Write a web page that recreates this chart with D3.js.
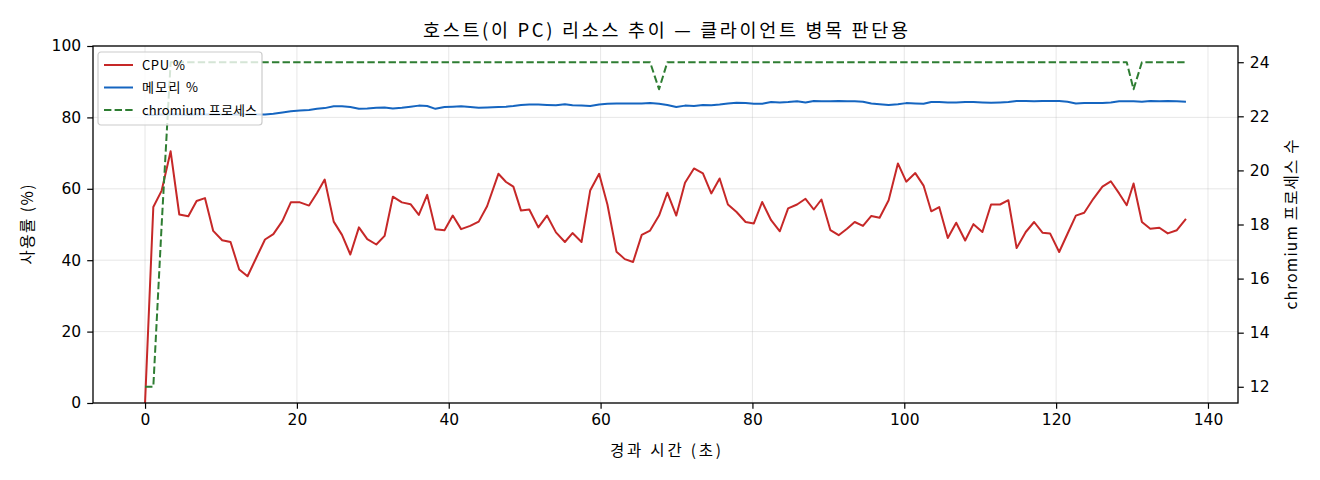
<!DOCTYPE html>
<html>
<head>
<meta charset="utf-8">
<script src="https://cdn.jsdelivr.net/npm/d3@7/dist/d3.min.js"></script>
<style>
  html, body { margin: 0; padding: 0; background: #fff; }
  svg { display: block; font-family: "Noto Sans CJK KR", "Noto Sans", "DejaVu Sans", sans-serif; }
</style>
</head>
<body>
<svg id="chart" width="1320" height="480"></svg>
<script>
// ---- data ----
const times = [0, 1.09, 2.19, 3.37, 4.51, 5.70, 6.79, 7.89, 8.98, 10.16, 11.26, 12.40, 13.50, 14.70, 15.80, 16.90, 18.10, 19.20, 20.40, 21.60, 22.65,
  23.66, 24.85, 25.94, 27.04, 28.17, 29.27, 30.46, 31.55, 32.64, 33.83, 34.97, 36.06, 37.16, 38.25, 39.44, 40.53, 41.63, 42.82, 43.95, 45.05,
  46.54, 47.55, 48.51, 49.52, 50.61, 51.80, 52.94, 54.12, 55.30, 56.30, 57.49, 58.63, 59.81, 60.90, 62.09, 63.19, 64.28, 65.42, 66.52, 67.70, 68.79,
  69.97, 71.12, 72.30, 73.48, 74.58, 75.68, 76.77, 77.91, 79.10, 80.19, 81.28, 82.46, 83.61, 84.70, 85.88, 86.99, 88.08, 89.09, 90.27, 91.36,
  92.46, 93.47, 94.56, 95.66, 96.75, 97.94, 99.16, 100.26, 101.45, 102.54, 103.55, 104.60, 105.73, 106.84, 108.02, 109.11, 110.29, 111.43, 112.62, 113.71, 114.80,
  116.0, 117.1, 118.2, 119.2, 120.4, 121.5, 122.6, 123.7, 124.9, 126.1, 127.2, 128.3, 129.3, 130.2, 131.3, 132.4, 133.6, 134.7, 135.9, 137.1];

const cpu = [0, 54.9, 59.5, 70.5, 52.8, 52.3, 56.6, 57.4, 48.2, 45.6, 45.1, 37.4, 35.5, 40.9, 45.8, 47.3, 51.0, 56.2, 56.2, 55.3, 58.8,
  62.6, 50.8, 47.1, 41.6, 49.2, 45.9, 44.4, 46.8, 57.8, 56.2, 55.7, 52.7, 58.3, 48.7, 48.4, 52.5, 48.7, 49.6, 50.8, 55.1,
  64.2, 61.9, 60.6, 53.9, 54.2, 49.2, 52.5, 47.8, 45.1, 47.6, 45.1, 59.5, 64.2, 55.6, 42.4, 40.3, 39.5, 47.1, 48.3, 52.5, 58.9,
  52.5, 61.7, 65.7, 64.3, 58.7, 62.9, 55.6, 53.5, 50.7, 50.3, 56.3, 51.2, 48.1, 54.5, 55.6, 57.2, 54.2, 57.0, 48.4, 47.0,
  48.8, 50.7, 49.6, 52.4, 51.9, 56.8, 67.1, 62.0, 64.4, 60.9, 53.7, 54.9, 46.2, 50.5, 45.5, 50.1, 47.9, 55.6, 55.6, 56.8, 43.4,
  47.9, 50.7, 47.7, 47.5, 42.3, 47.4, 52.5, 53.3, 57.2, 60.6, 62.1, 58.7, 55.4, 61.5, 50.7, 48.8, 49.1, 47.5, 48.4, 51.6];

const memory = [80.7, 80.7, 80.8, 80.8, 80.8, 80.7, 80.8, 80.8, 80.9, 80.8, 80.8, 80.8, 80.9, 80.8, 80.8, 81.0, 81.4, 81.7, 81.9, 82.1, 82.4,
  82.6, 83.1, 83.1, 82.9, 82.4, 82.5, 82.7, 82.8, 82.5, 82.7, 83.0, 83.3, 83.2, 82.4, 82.9, 83.0, 83.1, 82.9, 82.7, 82.8,
  82.9, 83.0, 83.2, 83.5, 83.6, 83.6, 83.5, 83.4, 83.7, 83.4, 83.3, 83.2, 83.6, 83.8, 83.9, 83.9, 83.9, 83.9, 84.0, 83.8, 83.5,
  82.9, 83.3, 83.2, 83.5, 83.4, 83.6, 83.9, 84.1, 84.0, 83.8, 83.8, 84.3, 84.2, 84.3, 84.5, 84.2, 84.6, 84.5, 84.5, 84.6,
  84.5, 84.5, 84.4, 83.9, 83.7, 83.5, 83.7, 84.0, 83.9, 83.8, 84.3, 84.3, 84.2, 84.2, 84.3, 84.3, 84.2, 84.1, 84.2, 84.3, 84.6,
  84.6, 84.5, 84.6, 84.6, 84.6, 84.4, 83.9, 84.0, 84.0, 84.0, 84.2, 84.5, 84.5, 84.5, 84.4, 84.6, 84.5, 84.6, 84.5, 84.4];

const procs = [12, 12, 18, 24, 24, 24, 24, 24, 24, 24, 24, 24, 24, 24, 24, 24, 24, 24, 24, 24, 24,
  24, 24, 24, 24, 24, 24, 24, 24, 24, 24, 24, 24, 24, 24, 24, 24, 24, 24, 24, 24,
  24, 24, 24, 24, 24, 24, 24, 24, 24, 24, 24, 24, 24, 24, 24, 24, 24, 24, 24, 23, 24,
  24, 24, 24, 24, 24, 24, 24, 24, 24, 24, 24, 24, 24, 24, 24, 24, 24, 24, 24, 24,
  24, 24, 24, 24, 24, 24, 24, 24, 24, 24, 24, 24, 24, 24, 24, 24, 24, 24, 24, 24, 24,
  24, 24, 24, 24, 24, 24, 24, 24, 24, 24, 24, 24, 24, 23, 24, 24, 24, 24, 24, 24, 24];

const xTicks = [0, 20, 40, 60, 80, 100, 120, 140];
const yTicks = [0, 20, 40, 60, 80, 100];
const y2Ticks = [12, 14, 16, 18, 20, 22, 24];

const seriesNames = ["CPU %", "메모리 %", "chromium 프로세스"];
const titleText = "호스트(이 PC) 리소스 추이 — 클라이언트 병목 판단용";
const xLabel = "경과 시간 (초)";
const yLabel = "사용률 (%)";
const y2Label = "chromium 프로세스 수";

// ---- layout ----
const L = 93, R = 1238, T = 46, B = 403;
const colCPU = "#c62828", colMem = "#1565c0", colProc = "#2e7d32";
const numFont = "'DejaVu Sans', sans-serif";

const svg = d3.select("#chart");

const x = d3.scaleLinear().domain([-6.855, 143.955]).range([L, R]);
const y = d3.scaleLinear().domain([0, 100]).range([B, T]);
const y2 = d3.scaleLinear().domain([11.4, 24.6]).range([B, T]);

// grid
const grid = svg.append("g").attr("stroke", "#b0b0b0").attr("stroke-opacity", 0.3).attr("stroke-width", 1);
grid.selectAll("line.gx").data(xTicks).join("line")
  .attr("x1", d => x(d)).attr("x2", d => x(d)).attr("y1", T).attr("y2", B);
grid.selectAll("line.gy").data(yTicks).join("line")
  .attr("x1", L).attr("x2", R).attr("y1", d => y(d)).attr("y2", d => y(d));

// lines
const idx = d3.range(times.length);
const lineL = (arr) => d3.line().x(i => x(times[i])).y(i => y(arr[i]))(idx);
const lineR = (arr) => d3.line().x(i => x(times[i])).y(i => y2(arr[i]))(idx);

svg.append("path").attr("d", lineL(cpu)).attr("fill", "none").attr("stroke", colCPU).attr("stroke-width", 2).attr("stroke-linejoin", "round");
svg.append("path").attr("d", lineL(memory)).attr("fill", "none").attr("stroke", colMem).attr("stroke-width", 2).attr("stroke-linejoin", "round");
svg.append("path").attr("d", lineR(procs)).attr("fill", "none").attr("stroke", colProc).attr("stroke-width", 2)
  .attr("stroke-dasharray", "7.4,3.2").attr("stroke-linejoin", "round");

// axes
const fs = 15.5;
const xAxis = svg.append("g").attr("transform", `translate(0,${B})`)
  .call(d3.axisBottom(x).tickValues(xTicks).tickSize(5.8).tickPadding(5).tickFormat(d3.format("d")));
const yAxis = svg.append("g").attr("transform", `translate(${L},0)`)
  .call(d3.axisLeft(y).tickValues(yTicks).tickSize(5.8).tickPadding(6).tickFormat(d3.format("d")));
const y2Axis = svg.append("g").attr("transform", `translate(${R},0)`)
  .call(d3.axisRight(y2).tickValues(y2Ticks).tickSize(5.8).tickPadding(6).tickFormat(d3.format("d")));
[xAxis, yAxis, y2Axis].forEach(g => {
  g.select(".domain").remove();
  g.selectAll("text").attr("font-size", fs).attr("fill", "#000").attr("font-family", numFont);
  g.selectAll("line").attr("stroke", "#000").attr("stroke-width", 1.2);
});

// frame
svg.append("rect").attr("x", L).attr("y", T).attr("width", R - L).attr("height", B - T)
  .attr("fill", "none").attr("stroke", "#000").attr("stroke-width", 1.3);

// labels
svg.append("text").attr("x", (L + R) / 2).attr("y", 37).attr("text-anchor", "middle")
  .attr("font-size", 18.5).attr("fill", "#000")
  .attr("textLength", 485).attr("lengthAdjust", "spacing").text(titleText);
svg.append("text").attr("x", (L + R) / 2).attr("y", 456).attr("text-anchor", "middle")
  .attr("font-size", 15.5).attr("fill", "#000")
  .attr("textLength", 111).attr("lengthAdjust", "spacing").text(xLabel);
svg.append("text").attr("transform", `translate(33,${(T + B) / 2}) rotate(-90)`).attr("text-anchor", "middle")
  .attr("font-size", 15.5).attr("fill", "#000")
  .attr("textLength", 80).attr("lengthAdjust", "spacing").text(yLabel);
svg.append("text").attr("transform", `translate(1297,${(T + B) / 2}) rotate(-90)`).attr("text-anchor", "middle")
  .attr("font-size", 15.5).attr("fill", "#000")
  .attr("textLength", 170).attr("lengthAdjust", "spacing").text(y2Label);

// legend
const lg = svg.append("g").attr("transform", "translate(98,52)");
lg.append("rect").attr("width", 164).attr("height", 73).attr("rx", 3)
  .attr("fill", "#fff").attr("fill-opacity", 0.8).attr("stroke", "#cccccc").attr("stroke-width", 1.2);
const legendItems = [
  { name: seriesNames[0], color: colCPU, dash: null, w: 43 },
  { name: seriesNames[1], color: colMem, dash: null, w: 56 },
  { name: seriesNames[2], color: colProc, dash: "7.4,3.2", w: 115 }
];
legendItems.forEach((d, i) => {
  const yy = 13 + i * 22.5;
  lg.append("line").attr("x1", 6).attr("x2", 35).attr("y1", yy).attr("y2", yy)
    .attr("stroke", d.color).attr("stroke-width", 2).attr("stroke-dasharray", d.dash);
  lg.append("text").attr("x", 44).attr("y", yy + 4.5).attr("font-size", 13).attr("fill", "#000")
    .attr("textLength", d.w).attr("lengthAdjust", "spacing").text(d.name);
});
</script>
</body>
</html>
